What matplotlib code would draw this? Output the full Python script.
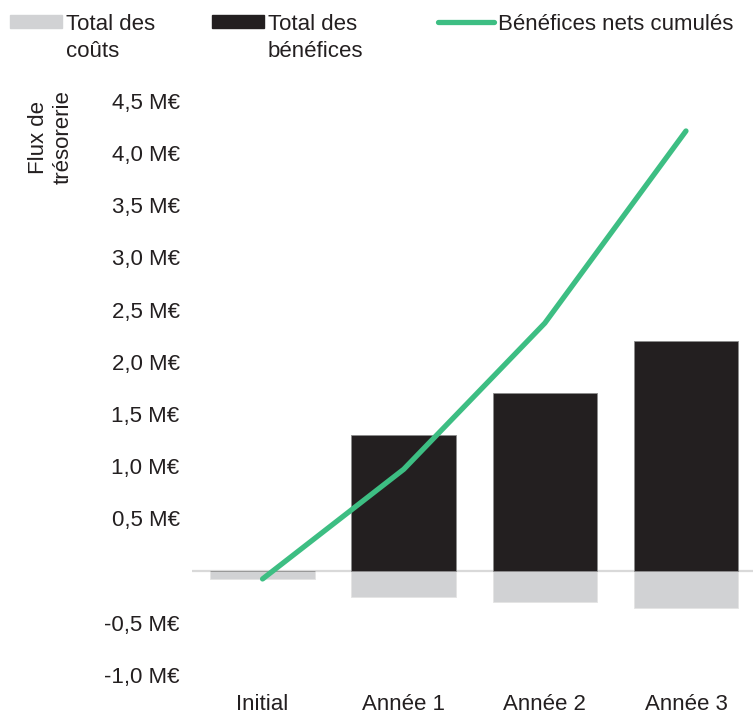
import matplotlib
matplotlib.use("Agg")
import matplotlib.pyplot as plt
from matplotlib.patches import Rectangle
from matplotlib.lines import Line2D

plt.rcParams['font.family'] = ['Liberation Sans', 'DejaVu Sans']

# Data (M€)
categories = ["Initial", "Année 1", "Année 2", "Année 3"]
costs = [-0.08, -0.25, -0.30, -0.36]
benefits = [0.0, 1.30, 1.70, 2.20]
net_cumulative = [-0.08, 0.97, 2.37, 4.21]
y_ticks = [-1.0, -0.5, 0.5, 1.0, 1.5, 2.0, 2.5, 3.0, 3.5, 4.0, 4.5]

COLOR_COST = "#D1D2D4"
COLOR_BENEFIT = "#231F20"
COLOR_NET = "#3DBE83"
TEXT = "#231F20"
FS = 16

W, H = 753, 715
fig = plt.figure(figsize=(W / 100, H / 100), dpi=100)
ax = fig.add_axes([192 / W, 40 / H, 561 / W, 574.3 / H])

x = list(range(len(categories)))
ax.axhline(0, color="#D9D9D9", lw=1.6, zorder=1)
ax.bar(x, costs, width=0.74, color=COLOR_COST, edgecolor="#E4E4E4", lw=0.6, zorder=2)
ax.bar(x, benefits, width=0.74, color=COLOR_BENEFIT, edgecolor="#8C8C8C", lw=0.6, zorder=2)
ax.plot(x, net_cumulative, color=COLOR_NET, lw=3.8, solid_capstyle="round",
        solid_joinstyle="round", zorder=3)

ax.set_xlim(-0.5, 3.475)
ax.set_ylim(-1.0, 4.5)
ax.set_yticks(y_ticks)
ax.set_yticklabels([f"{v:.1f}".replace(".", ",") + " M€" for v in y_ticks])
ax.set_xticks(x)
ax.set_xticklabels(categories)
ax.tick_params(axis="y", length=0, pad=9, labelsize=FS, colors=TEXT)
ax.tick_params(axis="x", length=0, pad=14, labelsize=FS, colors=TEXT)
for s in ax.spines.values():
    s.set_visible(False)

# y label
fig.text(51 / W, 1 - 137 / H, "Flux de\ntrésorerie", rotation=90, ha="center",
         va="center", multialignment="center", fontsize=FS, color=TEXT, linespacing=1.25)

# legend (manual, top row)
def px(xp, yp):
    return xp / W, 1 - yp / H

fig.patches.append(Rectangle(px(10, 28), 52 / W, 13 / H, transform=fig.transFigure,
                             color=COLOR_COST))
fig.patches.append(Rectangle(px(212, 28), 52 / W, 13 / H, transform=fig.transFigure,
                             color=COLOR_BENEFIT))
fig.lines.append(Line2D([438 / W, 494 / W], [1 - 22 / H, 1 - 22 / H], transform=fig.transFigure,
                        color=COLOR_NET, lw=3.8, solid_capstyle="round"))
fig.text(*px(66, 14), "Total des\ncoûts", ha="left", va="top", fontsize=FS, color=TEXT,
         linespacing=1.4)
fig.text(*px(268, 14), "Total des\nbénéfices", ha="left", va="top", fontsize=FS, color=TEXT,
         linespacing=1.4)
fig.text(*px(498, 14), "Bénéfices nets cumulés", ha="left", va="top", fontsize=FS, color=TEXT)

fig.savefig("out.png", dpi=100)
